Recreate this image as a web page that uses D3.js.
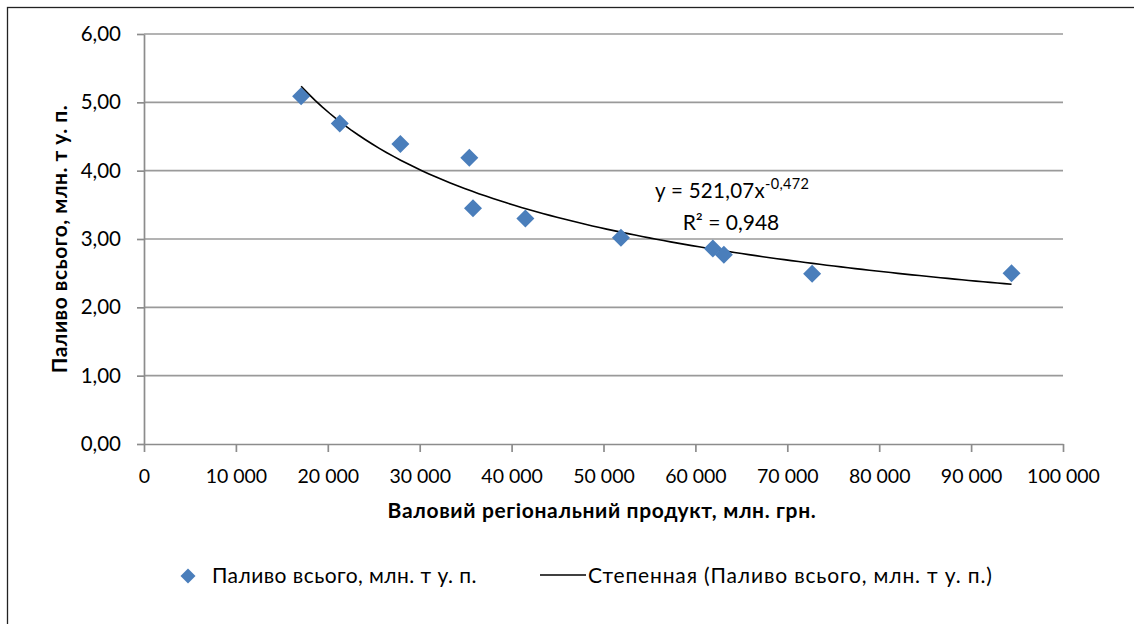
<!DOCTYPE html>
<meta charset="utf-8">
<style>
body { margin: 0; background: #fff; }
text { font-family: Lato, "Open Sans", sans-serif; fill: #000; }
.axis path, .axis line { stroke: #8c8c8c; stroke-width: 1.7; }
.grid line { stroke: #9a9a9a; stroke-width: 1.7; }
</style>
<body>
<script src="https://d3js.org/d3.v7.min.js"></script>
<script>

// data: gross regional product (mln UAH) vs fuel (mln t c.e.)
var grp  = [17100, 21300, 27900, 35400, 35800, 41500, 51900, 61900, 63100, 72700, 94400];
var fuel = [5.09, 4.69, 4.39, 4.19, 3.45, 3.30, 3.02, 2.86, 2.77, 2.49, 2.50];
var xTicks = [0, 10000, 20000, 30000, 40000, 50000, 60000, 70000, 80000, 90000, 100000];
var yTicks = [0, 1, 2, 3, 4, 5, 6];
// power trendline shown on the chart
var trendA = 521.07, trendB = -0.472, trendR2 = "0,948";

var W = 1134, H = 624;
var margin = {top: 34, right: 72, bottom: 180, left: 144},
    width = 1063 - margin.left,
    height = 444 - margin.top;

var loc = d3.formatLocale({decimal: ",", thousands: " ", grouping: [3], currency: ["", ""]});
var fx = loc.format(",d"), fy = loc.format(".2f");

var svg = d3.select("body").append("svg")
    .attr("width", W).attr("height", H);

// outer chart border (only left/top edges are inside the frame)
svg.append("rect")
    .attr("x", 7.5).attr("y", 7.5)
    .attr("width", W + 20).attr("height", H + 20)
    .attr("fill", "none").attr("stroke", "#222").attr("stroke-width", 1.3);

var g = svg.append("g")
    .attr("transform", "translate(" + margin.left + "," + margin.top + ")");

var x = d3.scaleLinear().domain([0, 100000]).range([0, width]);
var y = d3.scaleLinear().domain([0, 6]).range([height, 0]);

// horizontal gridlines
g.append("g").attr("class", "grid")
  .selectAll("line").data(yTicks.slice(1)).enter().append("line")
    .attr("x1", 0).attr("x2", width)
    .attr("y1", function(d) { return y(d); })
    .attr("y2", function(d) { return y(d); });

// x axis
var xa = g.append("g").attr("class", "axis")
    .attr("transform", "translate(0," + height + ")")
    .call(d3.axisBottom(x).tickValues(xTicks).tickFormat(fx).tickSize(8).tickSizeOuter(0));
xa.selectAll("text").attr("font-size", "19.5px").attr("dy", "1.42em");

// y axis
var ya = g.append("g").attr("class", "axis")
    .call(d3.axisLeft(y).tickValues(yTicks).tickFormat(fy).tickSize(7).tickPadding(16).tickSizeOuter(0));
ya.selectAll("text").attr("font-size", "20.5px");
svg.selectAll(".axis .domain").attr("stroke", "#8c8c8c");

// trendline
var trend = d3.range(0, 101).map(function(i) {
  var xv = d3.min(grp) + (d3.max(grp) - d3.min(grp)) * i / 100;
  return [xv, trendA * Math.pow(xv, trendB)];
});
g.append("path")
    .datum(trend)
    .attr("fill", "none").attr("stroke", "#000").attr("stroke-width", 1.6)
    .attr("d", d3.line().x(function(d) { return x(d[0]); }).y(function(d) { return y(d[1]); }));

// markers
function diamond(r) { return "M0," + (-r) + "L" + r + ",0L0," + r + "L" + (-r) + ",0Z"; }
g.selectAll(".pt").data(grp).enter().append("path")
    .attr("class", "pt")
    .attr("transform", function(d, i) { return "translate(" + x(d) + "," + y(fuel[i]) + ")"; })
    .attr("d", diamond(9))
    .attr("fill", "#4a7ebb");

// trendline equation
var eq = svg.append("text").attr("x", 655).attr("y", 198).attr("font-size", "20.5px").attr("letter-spacing", "0.3px");
eq.append("tspan").text("y = 521,07x");
eq.append("tspan").attr("dy", -9).attr("font-size", "14.5px").text("-0,472");
svg.append("text").attr("x", 731).attr("y", 230).attr("text-anchor", "middle")
    .attr("font-size", "21px").text("R² = " + trendR2);

// axis titles
svg.append("text")
    .attr("x", 602).attr("y", 518).attr("text-anchor", "middle")
    .attr("font-size", "21px").attr("font-weight", "bold").attr("letter-spacing", "0.65px")
    .text("Валовий регіональний продукт, млн. грн.");
svg.append("text")
    .attr("transform", "translate(67,239) rotate(-90)")
    .attr("text-anchor", "middle")
    .attr("font-size", "21px").attr("font-weight", "bold").attr("letter-spacing", "0.5px")
    .text("Паливо всього, млн. т у. п.");

// legend
svg.append("path").attr("transform", "translate(188,576)").attr("d", diamond(7.5)).attr("fill", "#4a7ebb");
svg.append("text").attr("x", 212).attr("y", 583).attr("font-size", "21px").attr("letter-spacing", "0.45px")
    .text("Паливо всього, млн. т у. п.");
svg.append("line").attr("x1", 540).attr("x2", 586).attr("y1", 575).attr("y2", 575)
    .attr("stroke", "#000").attr("stroke-width", 1.6);
svg.append("text").attr("x", 588).attr("y", 583).attr("font-size", "21px").attr("letter-spacing", "0.85px")
    .text("Степенная (Паливо всього, млн. т у. п.)");

</script>
</body>
